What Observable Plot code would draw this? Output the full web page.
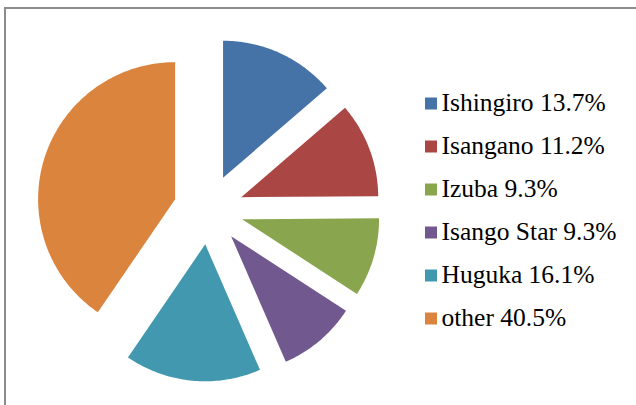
<!DOCTYPE html>
<html>
<head>
<meta charset="utf-8">
<script src="https://cdn.jsdelivr.net/npm/d3@7"></script>
<script src="https://cdn.jsdelivr.net/npm/@observablehq/plot@0.6"></script>
<style>
  html, body { margin: 0; padding: 0; background: #ffffff; }
  #chart { position: relative; width: 636px; height: 405px; overflow: hidden; background: #ffffff; }
  #chart .layer { position: absolute; left: 0; top: 0; }
  #frame { position: absolute; left: 3.5px; top: 7px; width: 700px; height: 500px;
           border-top: 2px solid #8c8c8c; border-left: 2px solid #8c8c8c; box-sizing: border-box; }
</style>
</head>
<body>
<div id="chart"><div id="frame"></div></div>
<script>
// ---- data ----
const names = ["Ishingiro", "Isangano", "Izuba", "Isango Star", "Huguka", "other"];
const shares = [13.7, 11.2, 9.3, 9.3, 16.1, 40.5];
const colors = ["#4572A7", "#AA4643", "#89A54E", "#71588F", "#4198AF", "#DB843D"];
const labels = names.map((n, i) => `${n} ${shares[i]}%`);

// ---- slice geometry (unit circle, clockwise from 12 o'clock) ----
const explode = 0.255;
const arcs = d3.pie().sort(null).value(d => d)(shares);
const polys = [];
arcs.forEach((a, i) => {
  const mid = (a.startAngle + a.endAngle) / 2;
  const ox = explode * Math.sin(mid), oy = explode * Math.cos(mid);
  polys.push({name: names[i], x: ox, y: oy});
  const n = Math.max(2, Math.ceil((a.endAngle - a.startAngle) / (Math.PI / 180)));
  for (let k = 0; k <= n; k++) {
    const t = a.startAngle + (a.endAngle - a.startAngle) * k / n;
    polys.push({name: names[i], x: ox + Math.sin(t), y: oy + Math.cos(t)});
  }
});

const cx = 208, cy = 209, R = 137;
const pie = Plot.plot({
  width: 636, height: 405, margin: 0,
  style: {background: "transparent", overflow: "visible"},
  x: {domain: [-1, 1], range: [cx - R, cx + R], axis: null},
  y: {domain: [-1, 1], range: [cy + R, cy - R], axis: null},
  color: {domain: names, range: colors},
  marks: [
    Plot.line(polys, {x: "x", y: "y", z: "name", fill: "name", stroke: "none"})
  ]
});

const serif = "'Liberation Serif', 'DejaVu Serif', serif";
const legend = Plot.plot({
  width: 636, height: 405, margin: 0,
  style: {background: "transparent", overflow: "visible"},
  y: {type: "point", domain: names, range: [102, 318.7], padding: 0, axis: null},
  color: {domain: names, range: colors},
  marks: [
    Plot.dot(names, {y: d => d, fill: d => d, symbol: "square", r: Math.sqrt(144 / Math.PI),
                     frameAnchor: "left", dx: 430.5}),
    Plot.text(names, {y: d => d, text: (d, i) => labels[i], frameAnchor: "left", dx: 441, dy: -1,
                      textAnchor: "start", fill: "#000000", fontSize: 25.5, fontFamily: serif})
  ]
});

pie.classList.add("layer");
legend.classList.add("layer");
const chart = document.getElementById("chart");
chart.appendChild(pie);
chart.appendChild(legend);
</script>
</body>
</html>
